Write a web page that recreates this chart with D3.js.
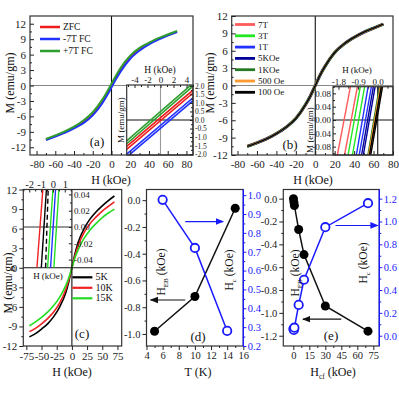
<!DOCTYPE html>
<html>
<head>
<meta charset="utf-8">
<script src="https://cdn.jsdelivr.net/npm/d3@7"></script>
<style>
body { margin: 0; background: #fff; }
svg { display: block; }
</style>
</head>
<body>
<script>
// ---- data ----
var fieldKOe = [-70, -60, -50, -40, -30, -20, -10, -5, 0, 5, 10, 20, 30, 40, 50, 60, 70];
var mZFC     = [-10.5, -9.8, -9.1, -8.2, -7.1, -5.6, -3.2, -1.7, 0, 1.7, 3.2, 5.6, 7.1, 8.2, 9.1, 9.8, 10.5];
var mMinus7T = [-10.6, -9.9, -9.2, -8.3, -7.3, -5.8, -3.5, -2.0, -0.35, 1.3, 2.8, 5.2, 6.8, 8.0, 8.9, 9.7, 10.4];
var mPlus7T  = [-10.4, -9.7, -8.9, -8.0, -6.8, -5.2, -2.8, -1.3, 0.35, 2.0, 3.5, 5.8, 7.3, 8.3, 9.2, 9.9, 10.6];

// inset (a): M at H = -5.2 and H = 5.0, two branches per loop
var insetAField = [-5.2, 5.0];
var insetZFC     = [[-1.55, 1.75], [-1.72, 1.58]];
var insetMinus7T = [[-2.0, 1.3], [-2.17, 1.13]];
var insetPlus7T  = [[-1.22, 2.15], [-1.39, 1.98]];

// panel (b)
var mCooled = [-10.5, -9.9, -9.2, -8.3, -7.2, -5.7, -3.3, -1.8, 0, 1.8, 3.3, 5.7, 7.2, 8.3, 9.2, 9.9, 10.6];
var cfNames = ["7T", "3T", "1T", "5KOe", "1KOe", "500 Oe", "100 Oe"];
// inset (b): H at M = -0.105 and M = 0.1 for both branches
var insetBM = [-0.105, 0.1];
var insetBH = [
  [[-1.85, -1.25], [-1.52, -0.93]],
  [[-1.36, -0.80], [-1.16, -0.60]],
  [[-0.98, -0.44], [-0.85, -0.29]],
  [[-0.74, -0.20], [-0.66, -0.12]],
  [[-0.45, 0.08], [-0.40, 0.14]],
  [[-0.42, 0.12], [-0.36, 0.18]],
  [[-0.38, 0.16], [-0.32, 0.22]]
];

// panel (c)
var tempNames = ["5K", "10K", "15K"];
var m5K  = [-10.6, -10.1, -9.4, -8.6, -7.5, -6.0, -3.8, -2.1, 0, 2.1, 3.8, 6.0, 7.5, 8.6, 9.5, 10.3, 11.0];
var m10K = [-9.8, -9.3, -8.6, -7.8, -6.8, -5.4, -3.3, -1.8, 0, 1.8, 3.3, 5.4, 6.8, 7.8, 8.7, 9.4, 10.1];
var m15K = [-8.9, -8.3, -7.6, -6.8, -5.8, -4.5, -2.7, -1.5, 0, 1.5, 2.7, 4.5, 5.8, 6.8, 7.7, 8.4, 9.0];
var insetCM = [-0.05, 0.046];
var insetCH = [[-1.35, -0.85], [-0.98, -0.55], [-0.62, -0.4], [-0.45, 0.0], [-0.2, 0.22], [0.08, 0.5]];

// panel (d)
var tempHeb = [5, 10, 15];
var hebT    = [-0.98, -0.72, -0.06];
var tempHc  = [6, 10, 14];
var hcT     = [0.975, 0.72, 0.28];

// panel (e)
var hcf   = [0.1, 0.5, 1, 5, 10, 30, 70];
var hebCF = [0.0, -0.03, -0.06, -0.27, -0.49, -0.94, -1.16];
var hcCF  = [0.06, 0.05, 0.07, 0.27, 0.49, 0.95, 1.16];

// tick values
var ticksH80 = [-80, -60, -40, -20, 0, 20, 40, 60, 80];
var ticksH80m = [-70, -50, -30, -10, 10, 30, 50, 70];
var ticksM12 = [-12, -9, -6, -3, 0, 3, 6, 9, 12];
var ticksM12m = [-10.5, -7.5, -4.5, -1.5, 1.5, 4.5, 7.5, 10.5];
var ticksH75 = [-75, -50, -25, 0, 25, 50, 75];
var ticksInA = [-4, -2, 0, 2, 4];
var ticksInAm = [-5, -3, -1, 1, 3, 5];
var ticksInAM = [-2, -1.5, -1, -0.5, 0, 0.5, 1, 1.5, 2];
var ticksInAMm = [-1.75, -1.25, -0.75, -0.25, 0.25, 0.75, 1.25, 1.75];
var ticksInB = [-1.8, -0.9, 0];
var ticksInBm = [-1.35, -0.45, 0.45];
var ticksInBM = [-0.08, -0.04, 0, 0.04, 0.08];
var ticksInBMm = [-0.1, -0.06, -0.02, 0.02, 0.06, 0.1];
var ticksInC = [-2, -1, 0, 1];
var ticksInCm = [-2.5, -1.5, -0.5, 0.5, 1.5];
var ticksInCM = [-0.04, -0.02, 0, 0.02, 0.04];
var ticksInCMm = [-0.03, -0.01, 0.01, 0.03];
var ticksT = [4, 6, 8, 10, 12, 14, 16];
var ticksTm = [5, 7, 9, 11, 13, 15];
var ticksHebD = [-1.0, -0.8, -0.6, -0.4, -0.2, 0.0];
var ticksHebDm = [-0.9, -0.7, -0.5, -0.3, -0.1];
var ticksHcD = [0.2, 0.3, 0.4, 0.5, 0.6, 0.7, 0.8, 0.9, 1.0];
var ticksHcDm = [0.25, 0.35, 0.45, 0.55, 0.65, 0.75, 0.85, 0.95];
var ticksCF = [0, 15, 30, 45, 60, 75];
var ticksCFm = [7.5, 22.5, 37.5, 52.5, 67.5];
var ticksHebE = [-1.2, -1.0, -0.8, -0.6, -0.4, -0.2, 0.0];
var ticksHebEm = [-1.1, -0.9, -0.7, -0.5, -0.3, -0.1];
var ticksHcE = [0.0, 0.2, 0.4, 0.6, 0.8, 1.0, 1.2];
var ticksHcEm = [0.1, 0.3, 0.5, 0.7, 0.9, 1.1];

// ---- drawing ----
var FONT = "'Liberation Serif','Times New Roman',Times,serif";
var BLUE = "#1a1aff";
var svg = d3.select("body").append("svg").attr("width", 399).attr("height", 399);
var defs = svg.append("defs");

defs.append("marker").attr("id", "arrK").attr("viewBox", "0 0 10 10")
  .attr("refX", 9).attr("refY", 5).attr("markerWidth", 7).attr("markerHeight", 7)
  .attr("orient", "auto").append("path").attr("d", "M0,1L10,5L0,9z").attr("fill", "#111");
defs.append("marker").attr("id", "arrB").attr("viewBox", "0 0 10 10")
  .attr("refX", 9).attr("refY", 5).attr("markerWidth", 7).attr("markerHeight", 7)
  .attr("orient", "auto").append("path").attr("d", "M0,1L10,5L0,9z").attr("fill", BLUE);

var fInt = function (d) { return String(d); };
var f1 = function (d) { return d.toFixed(1); };
var f2 = function (d) { return d.toFixed(2); };

function clip(id, r) {
  defs.append("clipPath").attr("id", id).append("rect")
    .attr("x", r.l).attr("y", r.t).attr("width", r.r - r.l).attr("height", r.b - r.t);
  return "url(#" + id + ")";
}

function axis(orient, scale, pos, o) {
  var mk = { bottom: d3.axisBottom, top: d3.axisTop, left: d3.axisLeft, right: d3.axisRight }[orient];
  var horiz = orient == "bottom" || orient == "top";
  var g = svg.append("g").attr("transform", horiz ? "translate(0," + pos + ")" : "translate(" + pos + ",0)");
  var s = o.inward ? -1 : 1;
  var col = o.color || "#222";
  if (o.minor) g.append("g").call(mk(scale).tickValues(o.minor).tickSize(2 * s).tickFormat(""));
  g.append("g").call(mk(scale).tickValues(o.major).tickSize((o.size || 4) * s)
    .tickPadding(o.pad == null ? 3 : o.pad).tickFormat(o.fmt || fInt));
  g.selectAll(".domain").remove();
  g.selectAll("line").attr("stroke", col).attr("stroke-width", 1);
  g.selectAll("text").attr("fill", col).attr("font-size", o.fs || 11).attr("font-family", FONT);
  return g;
}

function label(x, y, s, o) {
  o = o || {};
  var fs = o.fs || 12;
  var t = svg.append("text").attr("x", x).attr("y", y).attr("font-size", fs)
    .attr("fill", o.color || "#111").attr("text-anchor", o.anchor || "middle").attr("font-family", FONT);
  if (o.rot) t.attr("transform", "rotate(-90," + x + "," + y + ")");
  if (Array.isArray(s)) {
    t.append("tspan").text(s[0]);
    t.append("tspan").attr("dy", 3).attr("font-size", fs * 0.62).text(s[1]);
    t.append("tspan").attr("dy", -3).text(s[2]);
  } else t.text(s);
  return t;
}

function frame(r, stroke) {
  svg.append("rect").attr("x", r.l).attr("y", r.t).attr("width", r.r - r.l).attr("height", r.b - r.t)
    .attr("fill", "none").attr("stroke", stroke || "#333").attr("stroke-width", 1.2);
}

function hline(x1, x2, y, col, w) {
  svg.append("line").attr("x1", x1).attr("x2", x2).attr("y1", y).attr("y2", y)
    .attr("stroke", col).attr("stroke-width", w || 1.1);
}
function vline(x, y1, y2, col, w) {
  svg.append("line").attr("x1", x).attr("x2", x).attr("y1", y1).attr("y2", y2)
    .attr("stroke", col).attr("stroke-width", w || 1.1);
}

function curve(g, xs, ys, xs_, ys_, col, w, dash) {
  var p = g.append("path").datum(d3.zip(xs, ys))
    .attr("d", d3.line().x(function (d) { return xs_(d[0]); }).y(function (d) { return ys_(d[1]); })
      .curve(d3.curveMonotoneX))
    .attr("fill", "none").attr("stroke", col).attr("stroke-width", w);
  if (dash) p.attr("stroke-dasharray", dash);
  return p;
}

function arrow(x1, x2, y, col, id) {
  svg.append("line").attr("x1", x1).attr("x2", x2).attr("y1", y).attr("y2", y)
    .attr("stroke", col).attr("stroke-width", 1.2).attr("marker-end", "url(#" + id + ")");
}

function legend(x, y, col, txt, fs, w) {
  svg.append("line").attr("x1", x).attr("x2", x + 20).attr("y1", y).attr("y2", y)
    .attr("stroke", col).attr("stroke-width", w || 2.5);
  label(x + 23, y + 3, txt, { fs: fs || 9.5, anchor: "start" });
}

// ===== panel (a) =====
var PA = { l: 30, r: 193, t: 16, b: 155 };
var xA = d3.scaleLinear([-87, 87], [PA.l, PA.r]);
var yA = d3.scaleLinear([-13.5, 13.5], [PA.b, PA.t]);
hline(PA.l, PA.r, yA(0), "#888");
vline(xA(0), PA.t, PA.b, "#111");
var gA = svg.append("g").attr("clip-path", clip("cA", PA));
curve(gA, fieldKOe, mZFC, xA, yA, "#ee1c1c", 2);
curve(gA, fieldKOe, mMinus7T, xA, yA, "#2233ff", 2);
curve(gA, fieldKOe, mPlus7T, xA, yA, "#2e9e2e", 2);
legend(40, 27, "#ee1c1c", "ZFC");
legend(40, 39, "#2233ff", "-7T FC");
legend(40, 51, "#2e9e2e", "+7T FC");
label(97, 146, "(a)", { fs: 13 });

var IA = { l: 126.7, r: 193, t: 85, b: 155 };
var xIA = d3.scaleLinear([-5.2, 5.0], [IA.l, IA.r]);
var yIA = d3.scaleLinear([-2.05, 2.05], [IA.b, IA.t]);
svg.append("rect").attr("x", IA.l).attr("y", IA.t).attr("width", IA.r - IA.l).attr("height", IA.b - IA.t).attr("fill", "#fff");
vline(xIA(0), IA.t, IA.b, "#999");
hline(IA.l, IA.r, yIA(0), "#111");
var gIA = svg.append("g").attr("clip-path", clip("cIA", IA));
[[insetPlus7T, "#2e9e2e"], [insetZFC, "#ee1c1c"], [insetMinus7T, "#2233ff"]].forEach(function (s) {
  s[0].forEach(function (br) { curve(gIA, insetAField, br, xIA, yIA, s[1], 1.6); });
});
frame(IA);
axis("top", xIA, IA.t, { major: ticksInA, minor: ticksInAm, inward: true, fs: 9, pad: 2, size: 3 });
axis("right", yIA, IA.r, { major: ticksInAM, minor: ticksInAMm, inward: true, fs: 7.5, pad: 2, size: 3, fmt: f1 });
label(160, 73, "H (kOe)", { fs: 9.5 });
label(124, 120, "M (emu/gm)", { fs: 9, rot: true });

frame(PA);
axis("bottom", xA, PA.b, { major: ticksH80, minor: ticksH80m, inward: true, pad: 5 });
axis("left", yA, PA.l, { major: ticksM12, minor: ticksM12m, inward: true, pad: 4 });
label(111, 184, "H (kOe)");
label(14, 83, "M (emu/gm)", { rot: true });

// ===== panel (b) =====
var PB = { l: 231.7, r: 393, t: 16, b: 155 };
var xB = d3.scaleLinear([-86, 80], [PB.l, PB.r]);
var yB = d3.scaleLinear([-12, 12], [PB.b, PB.t]);
var cfColors = ["#ff5a5a", "#22e822", "#2233ff", "#000099", "#247a24", "#ff9a30", "#000000"];
hline(PB.l, PB.r, yB(0), "#888");
vline(xB(0), PB.t, PB.b, "#111");
var gB = svg.append("g").attr("clip-path", clip("cB", PB));
// all seven cooling fields overlap on the full scale; stack them, the colour ones peeking out
cfNames.forEach(function (n, i) {
  curve(gB, fieldKOe, mCooled, xB, yB, cfColors[i], 3.2 - i * 0.3);
});
cfNames.forEach(function (n, i) { legend(235, 24.5 + i * 11.3, cfColors[i], n, 9, 2.8); });
label(290, 149, "(b)", { fs: 13 });

var IB = { l: 333, r: 393, t: 86.7, b: 155 };
var xIB = d3.scaleLinear([-2.05, 0.7], [IB.l, IB.r]);
var yIB = d3.scaleLinear(insetBM, [IB.b, IB.t]);
svg.append("rect").attr("x", IB.l).attr("y", IB.t).attr("width", IB.r - IB.l).attr("height", IB.b - IB.t).attr("fill", "#fff");
vline(xIB(0), IB.t, IB.b, "#111");
hline(IB.l, IB.r, yIB(0), "#111");
var gIB = svg.append("g").attr("clip-path", clip("cIB", IB));
insetBH.forEach(function (pair, i) {
  pair.forEach(function (br) {
    gIB.append("line").attr("x1", xIB(br[0])).attr("y1", yIB(insetBM[0]))
      .attr("x2", xIB(br[1])).attr("y2", yIB(insetBM[1]))
      .attr("stroke", cfColors[i]).attr("stroke-width", 1.4);
  });
});
frame(IB);
axis("top", xIB, IB.t, { major: ticksInB, minor: ticksInBm, inward: true, fs: 9, pad: 2, size: 3, fmt: f1 });
axis("left", yIB, IB.l, { major: ticksInBM, minor: ticksInBMm, inward: true, fs: 9, pad: 2, size: 3, fmt: f2 });
label(357, 73, "H (kOe)", { fs: 9 });
label(313, 130, "M (emu/gm)", { fs: 9, rot: true });

frame(PB);
axis("bottom", xB, PB.b, { major: ticksH80, minor: ticksH80m, inward: true, pad: 5 });
axis("left", yB, PB.l, { major: ticksM12, minor: ticksM12m, inward: true, pad: 4 });
label(313, 184, "H (kOe)");
label(214, 83, "M (emu/gm)", { rot: true });

// ===== panel (c) =====
var PC = { l: 23.3, r: 121.7, t: 189.5, b: 346 };
var xC = d3.scaleLinear([-80, 82], [PC.l, PC.r]);
var yC = d3.scaleLinear([-12, 12], [PC.b, PC.t]);
var tempColors = ["#000000", "#ee2222", "#22dd22"];
var gC = svg.append("g").attr("clip-path", clip("cC", PC));
[m5K, m10K, m15K].forEach(function (m, i) { curve(gC, fieldKOe, m, xC, yC, tempColors[i], 1.6); });
hline(PC.l, PC.r, yC(0), "#111");
vline(xC(0), PC.t, PC.b, "#111");
tempNames.forEach(function (n, i) { legend(xC(0) + 0.5, 277.3 + i * 10.5, tempColors[i], n, 10, 2.2); });
label(82, 338, "(c)", { fs: 13 });

var IC = { l: PC.l, r: xC(0), t: PC.t, b: yC(0) };
var xIC = d3.scaleLinear([-2.5, 1.6], [IC.l, IC.r]);
var yIC = d3.scaleLinear(insetCM, [IC.b, IC.t]);
hline(IC.l, IC.r, yIC(0), "#333");
var gIC = svg.append("g").attr("clip-path", clip("cIC", IC));
var insetCColors = ["#ee2222", "#000000", "#000000", "#22dd22", "#2233ff", "#22dd22"];
insetCH.forEach(function (h, i) {
  var ln = gIC.append("line").attr("x1", xIC(h[0])).attr("y1", yIC(insetCM[0]))
    .attr("x2", xIC(h[1])).attr("y2", yIC(insetCM[1]))
    .attr("stroke", insetCColors[i]).attr("stroke-width", 1.4);
  if (i == 2) ln.attr("stroke-dasharray", "5,3");
});
axis("top", xIC, IC.t, { major: ticksInC, minor: ticksInCm, inward: true, fs: 10.5, pad: 2, size: 3 });
axis("right", yIC, IC.r, { major: ticksInCM, minor: ticksInCMm, inward: true, fs: 9, pad: 2, size: 3, fmt: f2 });
label(48, 279, "H (kOe)", { fs: 9 });

frame(PC);
axis("bottom", xC, PC.b, { major: ticksH75, pad: 2 });
axis("left", yC, PC.l, { major: ticksM12, minor: ticksM12m, pad: 2 });
label(72, 376, "H (kOe)");
label(12, 283, "M (emu/gm)", { rot: true });

// ===== panel (d) =====
var PD = { l: 146.5, r: 243.3, t: 189.5, b: 346 };
var xD = d3.scaleLinear([4, 16], [PD.l, PD.r]);
var yDL = d3.scaleLinear([-1.09, 0.08], [PD.b, PD.t]);
var yDR = d3.scaleLinear([0.2, 1.03], [PD.b, PD.t]);
svg.append("path").datum(d3.zip(tempHeb, hebT))
  .attr("d", d3.line().x(function (d) { return xD(d[0]); }).y(function (d) { return yDL(d[1]); }))
  .attr("fill", "none").attr("stroke", "#111").attr("stroke-width", 1.5);
svg.append("path").datum(d3.zip(tempHc, hcT))
  .attr("d", d3.line().x(function (d) { return xD(d[0]); }).y(function (d) { return yDR(d[1]); }))
  .attr("fill", "none").attr("stroke", BLUE).attr("stroke-width", 1.5);
svg.selectAll(null).data(d3.zip(tempHeb, hebT)).enter().append("circle")
  .attr("cx", function (d) { return xD(d[0]); }).attr("cy", function (d) { return yDL(d[1]); })
  .attr("r", 4.5).attr("fill", "#000");
svg.selectAll(null).data(d3.zip(tempHc, hcT)).enter().append("circle")
  .attr("cx", function (d) { return xD(d[0]); }).attr("cy", function (d) { return yDR(d[1]); })
  .attr("r", 4.2).attr("fill", "#fff").attr("stroke", BLUE).attr("stroke-width", 1.8);
arrow(xD(8.8), xD(4.5), yDL(-0.746), "#111", "arrK");
arrow(xD(8.8), xD(13.5), yDR(0.86), BLUE, "arrB");
label(198, 341, "(d)", { fs: 13 });
label(165, 272, ["H", "EB", " (kOe)"], { rot: true, fs: 11.5 });
label(233, 270, ["H", "c", " (kOe)"], { rot: true, fs: 11.5 });

frame(PD);
vline(PD.r, PD.t, PD.b, BLUE, 1.4);
axis("bottom", xD, PD.b, { major: ticksT, minor: ticksTm, pad: 2, fs: 10.5 });
axis("left", yDL, PD.l, { major: ticksHebD, minor: ticksHebDm, pad: 2, fs: 10.5, fmt: f1 });
axis("right", yDR, PD.r, { major: ticksHcD, minor: ticksHcDm, pad: 1.5, fs: 10.5, size: 3, fmt: f1, color: BLUE });
label(198, 376, "T (K)");

// ===== panel (e) =====
var PE = { l: 283.3, r: 379.3, t: 189.5, b: 346 };
var xE = d3.scaleLinear([-9.4, 80.6], [PE.l, PE.r]);
var yEL = d3.scaleLinear([-1.29, 0.08], [PE.b, PE.t]);
var yER = d3.scaleLinear([-0.09, 1.28], [PE.b, PE.t]);
svg.append("path").datum(d3.zip(hcf, hebCF))
  .attr("d", d3.line().x(function (d) { return xE(d[0]); }).y(function (d) { return yEL(d[1]); }))
  .attr("fill", "none").attr("stroke", "#111").attr("stroke-width", 1.5);
svg.append("path").datum(d3.zip(hcf, hcCF))
  .attr("d", d3.line().x(function (d) { return xE(d[0]); }).y(function (d) { return yER(d[1]); }))
  .attr("fill", "none").attr("stroke", BLUE).attr("stroke-width", 1.5);
svg.selectAll(null).data(d3.zip(hcf, hebCF)).enter().append("circle")
  .attr("cx", function (d) { return xE(d[0]); }).attr("cy", function (d) { return yEL(d[1]); })
  .attr("r", 4.5).attr("fill", "#000");
svg.selectAll(null).data(d3.zip(hcf, hcCF)).enter().append("circle")
  .attr("cx", function (d) { return xE(d[0]); }).attr("cy", function (d) { return yER(d[1]); })
  .attr("r", 4.2).attr("fill", "#fff").attr("stroke", BLUE).attr("stroke-width", 1.8);
arrow(xE(45), xE(9), yEL(-1.055), "#111", "arrK");
arrow(xE(39.5), xE(79.3), yER(0.965), BLUE, "arrB");
label(331, 340, "(e)", { fs: 13 });
label(299, 273, ["H", "EB", " (kOe)"], { rot: true, fs: 11.5 });
label(367, 263, ["H", "c", " (kOe)"], { rot: true, fs: 11.5 });

frame(PE);
vline(PE.r, PE.t, PE.b, BLUE, 1.4);
axis("bottom", xE, PE.b, { major: ticksCF, minor: ticksCFm, pad: 2, fs: 10.5 });
axis("left", yEL, PE.l, { major: ticksHebE, minor: ticksHebEm, pad: 2, fs: 10.5, fmt: f1 });
axis("right", yER, PE.r, { major: ticksHcE, minor: ticksHcEm, pad: 1.5, fs: 10.5, size: 3, fmt: f1, color: BLUE });
label(333, 376, ["H", "cf", " (kOe)"]);
</script>
</body>
</html>
